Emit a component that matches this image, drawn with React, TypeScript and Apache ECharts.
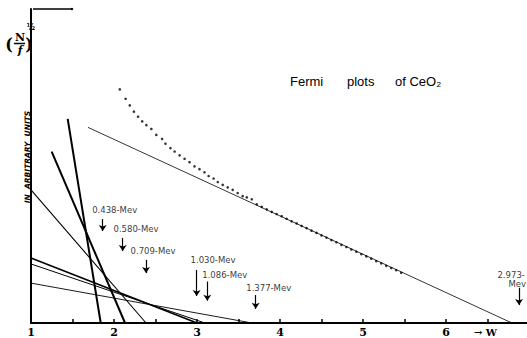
import React, { useEffect, useRef } from 'react';
import * as echarts from 'echarts';

// x tick labels (W)
const xTickLabels = ['1', '2', '3', '4', '5', '6'];

// Fermi-plot data points (W, sqrt(N/f) in arbitrary units)
const dotsW = [
  2.07, 2.14, 2.19, 2.24, 2.29, 2.34, 2.39, 2.45, 2.51, 2.58, 2.62, 2.68, 2.73, 2.79, 2.85,
  2.91, 2.97, 3.03, 3.09, 3.14, 3.2, 3.25, 3.31, 3.37, 3.43, 3.49, 3.55, 3.6, 3.66,
  3.72, 3.78, 3.84, 3.9, 3.96, 4.02, 4.08, 4.14, 4.2, 4.26, 4.32, 4.38, 4.44, 4.5, 4.56,
  4.62, 4.68, 4.74, 4.8, 4.86, 4.92, 4.98, 5.04, 5.1, 5.16, 5.22, 5.28, 5.34, 5.4, 5.46,
];
const dotsY = [
  74.4, 71.4, 69.3, 67.3, 65.7, 64.2, 63.0, 61.8, 59.9, 58.6, 57.1, 55.7, 54.6, 53.4, 52.3,
  51.2, 49.9, 49.0, 48.0, 46.8, 46.0, 44.9, 44.0, 43.2, 42.4, 41.4, 40.4, 40.0, 39.4,
  37.8, 37.0, 36.2, 35.4, 34.7, 34.0, 33.2, 32.4, 31.7, 30.9, 30.2, 29.4, 28.7, 27.9, 27.2,
  26.4, 25.7, 24.9, 24.2, 23.4, 22.7, 21.9, 21.2, 20.5, 19.7, 19.0, 18.2, 17.5, 16.8, 16.0,
];

// Straight-line fits (start, end) for each component
const fit0438 = [[1.442, 65.0], [1.84, 0]];
const fit0580 = [[1.249, 54.6], [2.133, 0]];
const fit0709 = [[1.0, 42.4], [2.386, 0]];
const fit1030 = [[1.0, 20.7], [3.0, 0]];
const fit1086 = [[1.0, 18.8], [3.096, 0]];
const fit1377 = [[1.0, 12.7], [3.663, 0]];
const fit2973 = [[1.687, 62.3], [6.795, 0]];

// End-point annotations
const labelTexts = ['0.438-Mev', '0.580-Mev', '0.709-Mev', '1.030-Mev', '1.086-Mev', '1.377-Mev', '2.973-', 'Mev'];
const labelW = [1.731, 1.988, 2.193, 2.916, 3.057, 3.587, 6.614, 6.747];
const labelY = [36.0, 29.8, 22.9, 20.1, 15.3, 11.2, 15.3, 12.4];
const arrowW = [1.864, 2.105, 2.386, 2.996, 3.124, 3.707, 6.88];
const arrowTop = [33.1, 27.1, 20.1, 16.9, 13.2, 8.9, 11.2];
const arrowBottom = [29.3, 22.9, 15.9, 8.6, 7.1, 4.5, 5.7];

const fits = [fit0438, fit0580, fit0709, fit1030, fit1086, fit1377, fit2973];
const fitWidths = [2, 2, 1.1, 1.7, 1, 0.9, 0.8];

export default function App() {
  const ref = useRef<HTMLDivElement>(null);
  useEffect(() => {
    if (!ref.current) return;
    const chart = echarts.init(ref.current, undefined, { renderer: 'svg' });
    const lineSeries = fits.map((d, i) => ({
      type: 'line',
      data: d,
      symbol: 'none',
      silent: true,
      lineStyle: { color: '#000', width: fitWidths[i] },
    }));
    const option: any = {
      animation: false,
      backgroundColor: '#fff',
      grid: { left: 31, right: 0, top: 9, bottom: 15 },
      xAxis: {
        type: 'value',
        min: 1,
        max: 6.976,
        interval: 0.5,
        axisLine: { lineStyle: { color: '#000', width: 2 } },
        axisTick: { inside: true, length: 4, lineStyle: { color: '#000', width: 1.5 } },
        splitLine: { show: false },
        axisLabel: {
          color: '#000',
          fontSize: 11,
          fontWeight: 'bold',
          fontFamily: 'DejaVu Serif',
          margin: 4,
          showMaxLabel: false,
          formatter: (v: number) => {
            const r = Math.round(v);
            if (Math.abs(v - r) > 1e-6) return '';
            return xTickLabels[r - 1] ?? '';
          },
        },
      },
      yAxis: {
        type: 'value',
        min: 0,
        max: 100,
        axisLine: { show: true, lineStyle: { color: '#000', width: 2 } },
        axisTick: { show: false },
        axisLabel: { show: false },
        splitLine: { show: false },
      },
      series: [
        ...lineSeries,
        {
          type: 'scatter',
          data: dotsW.map((w, i) => [w, dotsY[i]]),
          symbol: 'circle',
          symbolSize: 2.6,
          itemStyle: { color: '#000' },
          silent: true,
        },
        {
          type: 'scatter',
          data: labelTexts.map((t, i) => ({ name: t, value: [labelW[i], labelY[i]] })),
          symbol: 'circle',
          symbolSize: 1,
          itemStyle: { color: 'rgba(0,0,0,0)' },
          silent: true,
          label: {
            show: true,
            position: 'right',
            distance: 0,
            formatter: '{b}',
            color: '#000',
            fontSize: 8.5,
            fontFamily: 'DejaVu Sans',
          },
          markLine: {
            silent: true,
            symbol: ['none', 'arrow'],
            symbolSize: 6,
            label: { show: false },
            lineStyle: { color: '#000', width: 1.2, type: 'solid' },
            data: arrowW.map((w, i) => [
              { coord: [w, arrowTop[i]] },
              { coord: [w, arrowBottom[i]] },
            ]),
          },
        },
      ],
      graphic: [
        { type: 'line', shape: { x1: 33, y1: 9, x2: 72, y2: 9 }, style: { stroke: '#000', lineWidth: 1.5 } },
        { type: 'circle', shape: { cx: 72, cy: 9, r: 1.2 }, style: { fill: '#000' } },
        {
          type: 'text', x: 290, y: 81,
          style: { text: 'Fermi', fontSize: 13, fontFamily: 'Liberation Sans', fill: '#000', textVerticalAlign: 'middle' },
        },
        {
          type: 'text', x: 347, y: 81,
          style: { text: 'plots', fontSize: 13, fontFamily: 'Liberation Sans', fill: '#000', textVerticalAlign: 'middle' },
        },
        {
          type: 'text', x: 395, y: 81,
          style: { text: 'of CeO₂', fontSize: 13, fontFamily: 'Liberation Sans', fill: '#000', textVerticalAlign: 'middle' },
        },
        {
          type: 'text', x: 27, y: 157, rotation: Math.PI / 2,
          style: {
            text: 'IN  ARBITRARY  UNITS', fontSize: 7.5, fontStyle: 'italic', fontWeight: 'bold',
            fontFamily: 'DejaVu Sans', fill: '#000', textAlign: 'center', textVerticalAlign: 'middle',
          },
        },
        {
          type: 'text', x: 9, y: 44,
          style: { text: '(', fontSize: 16, fontFamily: 'DejaVu Serif', fontWeight: 'bold', fill: '#000', textAlign: 'center', textVerticalAlign: 'middle' },
        },
        {
          type: 'text', x: 20, y: 37,
          style: { text: 'N', fontSize: 11, fontFamily: 'DejaVu Serif', fontWeight: 'bold', fill: '#000', textAlign: 'center', textVerticalAlign: 'middle' },
        },
        { type: 'line', shape: { x1: 14, y1: 43.5, x2: 25, y2: 43.5 }, style: { stroke: '#000', lineWidth: 1.5 } },
        {
          type: 'text', x: 20, y: 50,
          style: { text: 'f', fontSize: 11, fontFamily: 'DejaVu Serif', fontWeight: 'bold', fontStyle: 'italic', fill: '#000', textAlign: 'center', textVerticalAlign: 'middle' },
        },
        {
          type: 'text', x: 29, y: 44,
          style: { text: ')', fontSize: 16, fontFamily: 'DejaVu Serif', fontWeight: 'bold', fill: '#000', textAlign: 'center', textVerticalAlign: 'middle' },
        },
        {
          type: 'text', x: 31, y: 27,
          style: { text: '½', fontSize: 8, fontFamily: 'DejaVu Sans', fontWeight: 'bold', fill: '#000', textAlign: 'center', textVerticalAlign: 'middle' },
        },
        {
          type: 'text', x: 474, y: 332,
          style: { text: '→ W', fontSize: 10, fontFamily: 'DejaVu Serif', fontWeight: 'bold', fill: '#000', textVerticalAlign: 'middle' },
        },
      ],
    };
    chart.setOption(option);
    return () => chart.dispose();
  }, []);
  return (
    <div
      ref={ref}
      style={{ position: 'fixed', left: 0, top: 0, width: 527, height: 338, background: '#fff' }}
    />
  );
}
